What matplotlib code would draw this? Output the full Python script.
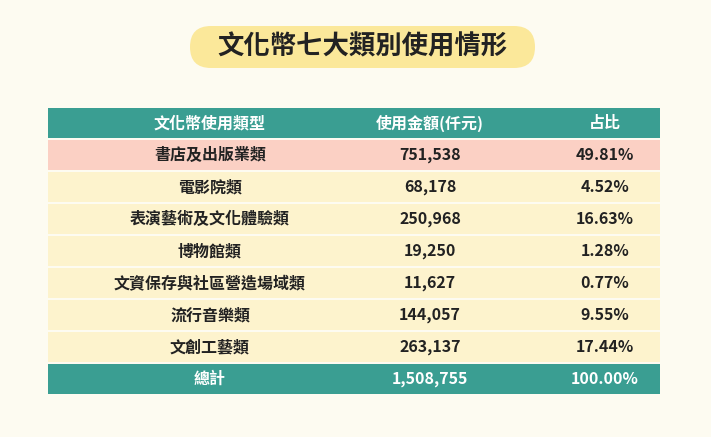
import matplotlib
matplotlib.use('Agg')
import matplotlib.pyplot as plt
from matplotlib.patches import Rectangle, FancyBboxPatch

plt.rcParams['font.family'] = ['Noto Sans CJK TC', 'DejaVu Sans']

title = '文化幣七大類別使用情形'
headers = ['文化幣使用類型', '使用金額(仟元)', '占比']
categories = ['書店及出版業類', '電影院類', '表演藝術及文化體驗類', '博物館類',
              '文資保存與社區營造場域類', '流行音樂類', '文創工藝類']
amounts = ['751,538', '68,178', '250,968', '19,250', '11,627', '144,057', '263,137']
shares = ['49.81%', '4.52%', '16.63%', '1.28%', '0.77%', '9.55%', '17.44%']
total = ['總計', '1,508,755', '100.00%']

W, H = 711, 437
fig = plt.figure(figsize=(W / 100, H / 100), dpi=100)
bg = '#fdfbf1'
fig.patch.set_facecolor(bg)
ax = fig.add_axes([0, 0, 1, 1])
ax.set_xlim(0, W)
ax.set_ylim(H, 0)
ax.axis('off')

# title pill
ax.add_patch(FancyBboxPatch((190, 26), 345, 42, boxstyle='round,pad=0,rounding_size=21',
                            fc='#fbe89a', ec='none'))
ax.text(362, 47, title, ha='center', va='center', fontsize=19, fontweight='bold', color='#222222')

x0, x1 = 48, 660
top, rh, gap = 108, 32, 2
col_x = [210, 430, 605]
teal = '#3a9e92'

rows = [(headers, teal, 'white')]
for i, (c, a, s) in enumerate(zip(categories, amounts, shares)):
    rows.append(([c, a, s], '#fbd0c4' if i == 0 else '#fdf3cd', '#222222'))
rows.append((total, teal, 'white'))

for r, (cells, fc, tc) in enumerate(rows):
    y = top + r * rh
    ax.add_patch(Rectangle((x0, y), x1 - x0, rh - gap, fc=fc, ec='none'))
    for cx, t in zip(col_x, cells):
        ax.text(cx, y + (rh - gap) / 2, t, ha='center', va='center', fontsize=11.5,
                fontweight='bold', color=tc)

fig.savefig('out.png', dpi=100, facecolor=bg)
